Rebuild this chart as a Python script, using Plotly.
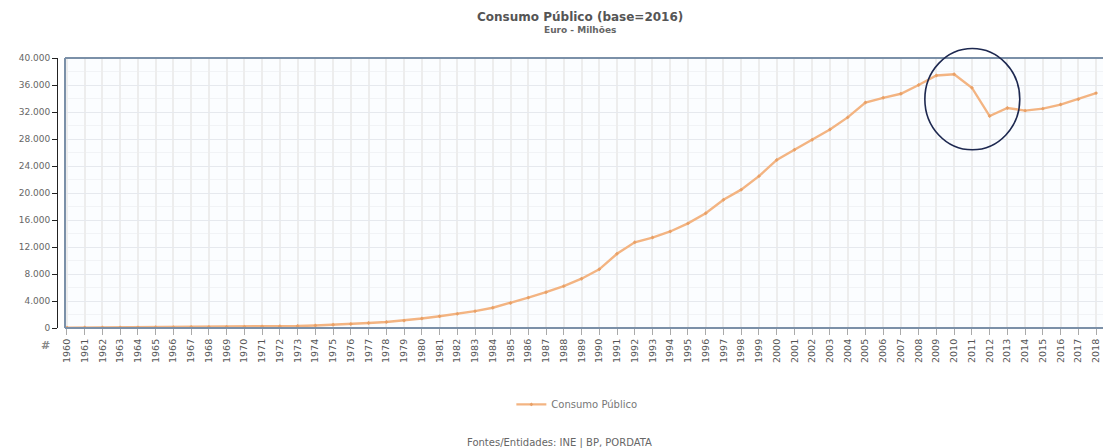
import plotly.graph_objects as go

# Consumo Público, Euro - Milhões, 1960-2018
years = list(range(1960, 2019))
consumo_publico = [
    60, 70, 80, 90, 100, 110, 120, 140, 150, 170,
    200, 220, 250, 300, 380, 480, 600, 750, 900, 1100,
    1400, 1750, 2100, 2500, 3000, 3700, 4500, 5300, 6200, 7300,
    8700, 11000, 12700, 13400, 14300, 15500, 17000, 19000, 20500, 22500,
    24900, 26400, 27900, 29400, 31200, 33400, 34100, 34700, 36000, 37400,
    37600, 35600, 31400, 32600, 32200, 32500, 33100, 33900, 34800,
]
y_ticks = [0, 4000, 8000, 12000, 16000, 20000, 24000, 28000, 32000, 36000, 40000]

title_text = "Consumo Público (base=2016)"
subtitle_text = "Euro - Milhões"
series_name = "Consumo Público"
source_text = "Fontes/Entidades: INE | BP, PORDATA"

# ellipse drawn around the 2010-2012 fall (years / euro millions)
highlight_x = (2008.35, 2013.7)
highlight_y = (26400, 41400)

W, H = 1103, 448
M_L, M_R, M_T, M_B = 57, 0, 58, 120
plot_left_px = 65
x_range = [1959.89, 2018.39]
y_range = [0, 40000]

FONT = "DejaVu Sans"
BORDER = "#7b90a8"

fig = go.Figure()
fig.add_trace(go.Scatter(
    x=years, y=consumo_publico, name=series_name,
    mode="lines+markers",
    line=dict(color="#f3b482", width=2.4),
    marker=dict(symbol="diamond", size=3, color="#e8a066"),
    showlegend=True,
))

x_dom0 = (plot_left_px - M_L) / (W - M_L - M_R)


def to_xdom(v):
    return (v - x_range[0]) / (x_range[1] - x_range[0])


def to_ydom(v):
    return (v - y_range[0]) / (y_range[1] - y_range[0])


shapes = [
    # plot frame: top, left, bottom
    dict(type="line", xref="x domain", yref="y domain", x0=0, x1=1, y0=1, y1=1,
         line=dict(color=BORDER, width=2), layer="above"),
    dict(type="line", xref="x domain", yref="y domain", x0=0, x1=0, y0=0, y1=1,
         line=dict(color=BORDER, width=2), layer="above"),
    dict(type="line", xref="x domain", yref="y domain", x0=0, x1=1, y0=0, y1=0,
         line=dict(color=BORDER, width=2), layer="above"),
    dict(type="circle", xref="x domain", yref="y domain",
         x0=to_xdom(highlight_x[0]), x1=to_xdom(highlight_x[1]),
         y0=to_ydom(highlight_y[0]), y1=to_ydom(highlight_y[1]),
         line=dict(color="#1d2850", width=1.6), layer="above"),
]

fig.update_layout(
    width=W, height=H,
    margin=dict(l=M_L, r=M_R, t=M_T, b=M_B, pad=0),
    paper_bgcolor="white",
    plot_bgcolor="#fbfdff",
    separators=",.",
    font=dict(family=FONT, color="#555555", size=9),
    shapes=shapes,
    showlegend=True,
    legend=dict(orientation="h", x=0.497, xanchor="center", y=-0.283, yanchor="middle",
                font=dict(size=10, color="#777777", family=FONT),
                bgcolor="rgba(0,0,0,0)"),
    xaxis=dict(
        domain=[x_dom0, 1], range=x_range,
        tickmode="array", tickvals=years, ticktext=[str(y) for y in years],
        tickangle=-90, tickfont=dict(size=9.5, color="#555555", family=FONT),
        ticks="outside", ticklen=6, tickcolor="#aaaaaa",
        showgrid=True, gridcolor="#ededed", gridwidth=2,
        showline=False, zeroline=False,
    ),
    yaxis=dict(
        anchor="free", position=0, range=y_range,
        tickmode="array", tickvals=y_ticks, tickformat=",d",
        tickfont=dict(size=9, color="#666666", family=FONT),
        ticks="outside", ticklen=5, tickcolor="#222222",
        showline=True, linecolor="#222222", linewidth=1,
        showgrid=True, gridcolor="#e6e9ee", gridwidth=1,
        minor=dict(dtick=2000, showgrid=True, gridcolor="#f1f3f6"),
        zeroline=False,
    ),
    annotations=[
        dict(text=f"<b>{title_text}</b>", xref="paper", yref="paper",
             x=0.5, y=1, yshift=41, xanchor="center", yanchor="middle",
             showarrow=False, font=dict(size=12, color="#555555", family=FONT)),
        dict(text=f"<b>{subtitle_text}</b>", xref="paper", yref="paper",
             x=0.5, y=1, yshift=28, xanchor="center", yanchor="middle",
             showarrow=False, font=dict(size=9, color="#666666", family=FONT)),
        dict(text=source_text, xref="paper", yref="paper",
             x=0.48, y=0, yshift=-115, xanchor="center", yanchor="middle",
             showarrow=False, font=dict(size=10, color="#666666", family=FONT)),
        dict(text="<b>#</b>", xref="paper", yref="paper",
             x=0, y=0, xshift=-12, yshift=-17, xanchor="center", yanchor="middle",
             showarrow=False, font=dict(size=11, color="#888888", family=FONT)),
    ],
)

fig.write_html("out.html")
